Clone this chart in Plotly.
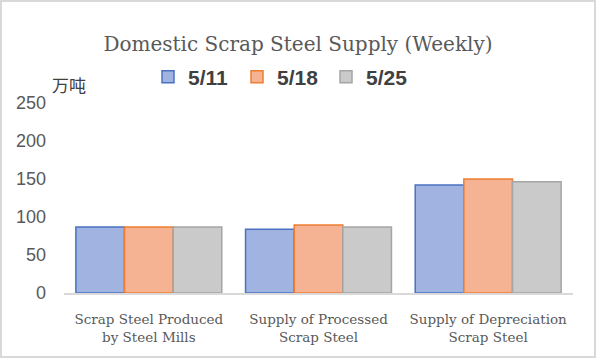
import plotly.graph_objects as go

categories = ["Scrap Steel Produced<br>by Steel Mills", "Supply of Processed<br>Scrap Steel", "Supply of Depreciation<br>Scrap Steel"]
s_0511 = [87, 84, 142]
s_0518 = [87, 89.5, 150]
s_0525 = [87, 87, 146.5]
series_names = ["5/11", "5/18", "5/25"]
y_ticks = [0, 50, 100, 150, 200, 250]

fills = ["#a1b3e0", "#f5b393", "#cacaca"]
lines = ["#4a72c0", "#ed7d31", "#a5a5a5"]

fig = go.Figure()
for name, vals, fc, lc in zip(series_names, [s_0511, s_0518, s_0525], fills, lines):
    fig.add_trace(go.Bar(x=categories, y=vals, name=name,
                         marker=dict(color=fc, line=dict(color=lc, width=1.5))))

L, R, T, B = 64, 23, 103, 65
W, H = 596, 358
pw, ph = W - L - R, H - T - B

def px(x):
    return (x - L) / pw

def py(y):
    return 1 - (y - T) / ph

fig.update_layout(
    width=W, height=H,
    margin=dict(l=L, r=R, t=T, b=B, autoexpand=False),
    paper_bgcolor="white", plot_bgcolor="white",
    barmode="group", bargap=0.14, bargroupgap=0,
    title=dict(text="Domestic Scrap Steel Supply (Weekly)", x=0.5, xanchor="center",
               y=1 - 44 / H, yanchor="middle",
               font=dict(family="DejaVu Serif", size=20, color="#595959")),
    legend=dict(orientation="h", x=px(148), xanchor="left", y=py(77), yanchor="middle",
                font=dict(family="Liberation Sans", size=21, color="#404040", weight="bold"),
                entrywidth=44, itemwidth=30, bgcolor="rgba(0,0,0,0)"),
    xaxis=dict(showgrid=False, showline=True, linecolor="#d9d9d9", linewidth=2,
               ticks="", ticklabelstandoff=13, automargin=False,
               tickfont=dict(family="DejaVu Serif", size=13.5, color="#595959")),
    yaxis=dict(range=[0, 250], tickvals=y_ticks, showgrid=False, zeroline=False,
               showline=False, ticks="", ticklabelstandoff=17, automargin=False,
               tickfont=dict(family="Liberation Sans", size=18, color="#595959")),
    annotations=[
        dict(text="万吨", xref="paper", yref="paper",
             x=px(69), y=py(85), xanchor="center", yanchor="middle", showarrow=False,
             font=dict(family="Noto Sans CJK SC", size=17, color="#404040")),
    ],
    shapes=[dict(type="rect", xref="paper", yref="paper",
                 x0=px(1), x1=px(W - 1), y0=py(H - 1), y1=py(1),
                 line=dict(color="#d9d9d9", width=2), fillcolor="rgba(0,0,0,0)", layer="below")],
)

fig.write_html("out.html", config={"displayModeBar": False},
               post_script="document.body.style.margin='0px';")
